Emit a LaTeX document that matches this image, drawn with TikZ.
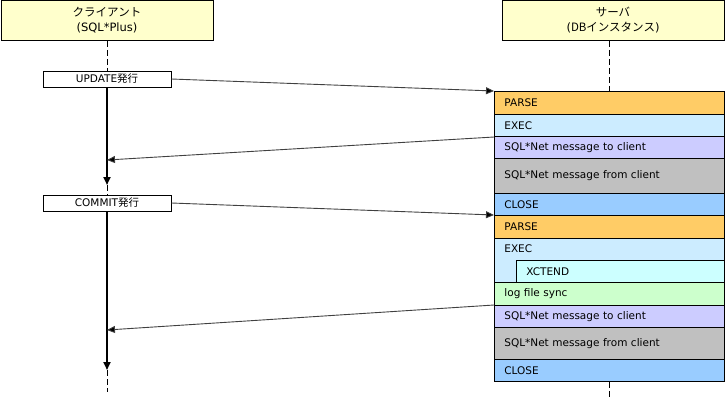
\documentclass[tikz,border=0pt]{standalone}
\usepackage{fontspec}
\setmainfont{DejaVu Sans}
\newfontfamily\cjk{Noto Sans CJK JP}
\usetikzlibrary{arrows.meta}
\definecolor{hdr}{HTML}{FFFFCC}
\definecolor{cparse}{HTML}{FFCC66}
\definecolor{cexec}{HTML}{CCECFF}
\definecolor{cto}{HTML}{CCCCFF}
\definecolor{cfrom}{HTML}{C0C0C0}
\definecolor{cclose}{HTML}{99CCFF}
\definecolor{clog}{HTML}{CCFFCC}
\definecolor{cxct}{HTML}{CCFFFF}
\definecolor{msg}{HTML}{404040}
\tikzset{
  hdrbox/.style={draw, line width=0.8pt, fill=hdr, minimum height=40pt, align=center, font=\fontsize{11.5}{15}\selectfont, inner sep=0pt},
  actbox/.style={draw, line width=0.8pt, fill=white, minimum width=128pt, minimum height=16pt, inner sep=0pt, font=\fontsize{10.5}{11}\selectfont},
  row/.style={draw, line width=0.8pt, anchor=north west, minimum width=230pt, text width=210pt, inner xsep=10pt, inner ysep=0pt, align=left, font=\fontsize{10.5}{12}\selectfont},
  lifed/.style={line width=0.8pt, dash pattern=on 6pt off 3pt},
  thick life/.style={line width=2pt, -{Triangle[length=8pt,width=7pt]}},
  msgarrow/.style={draw=msg, line width=0.9pt, -{Triangle[length=8pt,width=7pt,fill=black]}},
}
\begin{document}
\begin{tikzpicture}[x=1pt,y=-1pt]
\useasboundingbox (0,0) rectangle (725,400);
% headers
\node[hdrbox, minimum width=212pt] (client) at (107,20.5) {{\cjk クライアント}\\(SQL*Plus)};
\node[hdrbox, minimum width=222pt] (server) at (613,20.5) {{\cjk サーバ}\\({\cjk DB}{\cjk インスタンス})};
% client boxes
\node[actbox] (upd) at (107,79) {UPDATE{\cjk 発行}};
\node[actbox] (com) at (107,203) {COMMIT{\cjk 発行}};
% server rows
\node[row, fill=cparse, minimum height=23pt] (p1) at (494,91) {PARSE};
\node[row, fill=cexec, minimum height=22pt] (e1) at (494,114) {EXEC};
\node[row, fill=cto, minimum height=22pt] (t1) at (494,136) {SQL*Net message to client};
\node[row, fill=cfrom, minimum height=35pt] (f1) at (494,158) {SQL*Net message from client};
\node[row, fill=cclose, minimum height=22pt] (c1) at (494,193) {CLOSE};
\node[row, fill=cparse, minimum height=23pt] (p2) at (494,215) {PARSE};
\node[row, fill=cexec, minimum height=44pt, text height=8pt, text depth=24pt] (e2) at (494,238) {EXEC};
\node[row, fill=cxct, minimum width=208pt, text width=188pt, minimum height=22pt] (x2) at (516,260) {XCTEND};
\node[row, fill=clog, minimum height=23pt] (l2) at (494,282) {log file sync};
\node[row, fill=cto, minimum height=22pt] (t2) at (494,305) {SQL*Net message to client};
\node[row, fill=cfrom, minimum height=32pt] (f2) at (494,327) {SQL*Net message from client};
\node[row, fill=cclose, minimum height=22pt] (c2) at (494,359) {CLOSE};
% coordinates
\coordinate (a1) at (107,185);
\coordinate (a2) at (107,370);
\coordinate (cend) at (107,392);
\coordinate (send) at (609,398);
\coordinate (r1) at (107,160);
\coordinate (r2) at (107,330);
\coordinate (s1) at (494,137);
\coordinate (s2) at (494,305);
% lifelines
\draw[lifed] (client.south) -- (upd.north);
\draw[lifed] (server.south -| send) -- (p1.north -| send);
\draw[lifed] (c2.south -| send) -- (send);
\draw[thick life] (upd.south) -- (a1);
\draw[lifed] (a1) -- (com.north);
\draw[thick life] (com.south) -- (a2);
\draw[lifed] (a2) -- (cend);
% messages
\draw[msgarrow] (upd.east) -- (p1.north west);
\draw[msgarrow] (s1) -- (r1);
\draw[msgarrow] (com.east) -- (p2.north west);
\draw[msgarrow] (s2) -- (r2);
\end{tikzpicture}
\end{document}
